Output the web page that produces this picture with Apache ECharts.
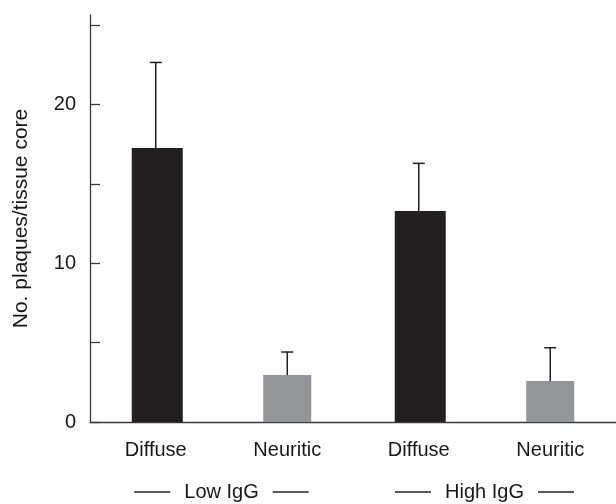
<!DOCTYPE html>
<html>
<head>
<meta charset="utf-8">
<script src="https://cdn.jsdelivr.net/npm/echarts@6/dist/echarts.min.js"></script>
<style>
html,body{margin:0;padding:0;background:#fff;}
#chart{width:616px;height:504px;}
</style>
</head>
<body>
<div id="chart"></div>
<script>
var categories = ['Diffuse', 'Neuritic', 'Diffuse', 'Neuritic'];
var groups = ['Low IgG', 'High IgG'];
var diffuseValues = [17.27, null, 13.3, null];
var neuriticValues = [null, 2.96, null, 2.58];
var means = [17.27, 2.96, 13.3, 2.58];
var errorTops = [22.66, 4.41, 16.3, 4.68];
var yTickLabels = [0, 10, 20];

var textColor = '#1a1718';
var font = '"Liberation Sans", Arial, Helvetica, sans-serif';

var errorData = means.map(function (m, i) { return [i, m, errorTops[i]]; });

var chart = echarts.init(document.getElementById('chart'), null, {renderer: 'canvas'});
chart.setOption({
  animation: false,
  backgroundColor: '#ffffff',
  grid: {left: 90, right: 0, top: 15, bottom: 82, containLabel: false},
  xAxis: [{
    type: 'category',
    data: categories,
    axisLine: {show: true, lineStyle: {color: '#3a3a3a', width: 1.3}},
    axisTick: {show: false},
    axisLabel: {color: textColor, fontFamily: font, fontSize: 20, margin: 18},
    splitLine: {show: false}
  }, {
    type: 'category',
    data: groups,
    position: 'bottom',
    offset: 44,
    axisLine: {show: false},
    axisTick: {show: false},
    splitLine: {show: false},
    axisLabel: {
      margin: 16,
      formatter: function (v) { return '{l|}{t|' + v + '}{l|}'; },
      rich: {
        l: {width: 36, height: 1.3, backgroundColor: '#231f20'},
        t: {color: textColor, fontFamily: font, fontSize: 20, padding: [0, 14, 0, 14]}
      }
    }
  }],
  yAxis: {
    type: 'value',
    min: 0,
    max: 25.65,
    interval: 5,
    name: 'No. plaques/tissue core',
    nameLocation: 'middle',
    nameRotate: 90,
    nameGap: 58,
    nameTextStyle: {color: textColor, fontFamily: font, fontSize: 21},
    axisLine: {show: true, lineStyle: {color: '#3a3a3a', width: 1.3}},
    axisTick: {show: true, inside: true, length: 10, lineStyle: {color: '#3a3a3a', width: 1.3}},
    axisLabel: {
      color: textColor, fontFamily: font, fontSize: 20, margin: 14,
      showMaxLabel: false,
      formatter: function (v) { return yTickLabels.indexOf(v) >= 0 ? String(v) : ''; }
    },
    splitLine: {show: false}
  },
  series: [{
    type: 'bar',
    data: diffuseValues,
    barWidth: 51,
    barGap: '-100%',
    itemStyle: {color: '#231f20'}
  }, {
    type: 'bar',
    data: neuriticValues,
    barWidth: 48,
    barGap: '-100%',
    itemStyle: {color: '#939598'}
  }, {
    type: 'custom',
    data: errorData,
    z: 5,
    renderItem: function (params, api) {
      var x = api.value(0);
      var base = api.coord([x, api.value(1)]);
      var top = api.coord([x, api.value(2)]);
      var half = 6;
      var style = {stroke: '#231f20', lineWidth: 1.5};
      return {
        type: 'group',
        children: [
          {type: 'line', shape: {x1: base[0], y1: base[1], x2: top[0], y2: top[1]}, style: style},
          {type: 'line', shape: {x1: top[0] - half, y1: top[1], x2: top[0] + half, y2: top[1]}, style: style}
        ]
      };
    }
  }]
});
</script>
</body>
</html>
